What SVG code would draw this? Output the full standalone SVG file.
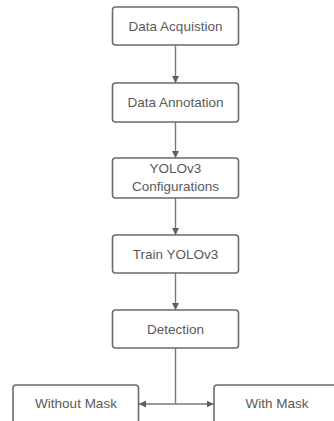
<svg xmlns="http://www.w3.org/2000/svg" width="334" height="421" viewBox="0 0 334 421">
  <style>
    .box { fill: #ffffff; stroke: #6b6b6b; stroke-width: 1.6; }
    .label { font-family: "Liberation Sans", Arial, sans-serif; font-size: 13.5px; fill: #5a5a5a; text-anchor: middle; dominant-baseline: central; }
    .wire { fill: none; stroke: #7a7a7a; stroke-width: 1.4; }
  </style>
  <defs>
    <marker id="arrow" viewBox="0 0 10 10" refX="10" refY="5" markerWidth="7" markerHeight="7" markerUnits="userSpaceOnUse" orient="auto">
      <path d="M0,0 L10,5 L0,10 z" fill="#5f5f5f"/>
    </marker>
  </defs>
  <rect width="334" height="421" fill="#ffffff"/>

  <g id="connectors">
    <line class="wire" x1="175.5" y1="45" x2="175.5" y2="83" marker-end="url(#arrow)"/>
    <line class="wire" x1="175.5" y1="122" x2="175.5" y2="158" marker-end="url(#arrow)"/>
    <line class="wire" x1="175.5" y1="198" x2="175.5" y2="235" marker-end="url(#arrow)"/>
    <line class="wire" x1="175.5" y1="273" x2="175.5" y2="310" marker-end="url(#arrow)"/>
    <line class="wire" x1="175.5" y1="348" x2="175.5" y2="404"/>
    <line class="wire" x1="175.5" y1="404" x2="139" y2="404" marker-end="url(#arrow)"/>
    <line class="wire" x1="175.5" y1="404" x2="213.5" y2="404" marker-end="url(#arrow)"/>
  </g>

  <g id="data-acquisition">
    <rect class="box" x="112.5" y="7" width="126" height="38" rx="3"/>
    <text class="label" x="175.5" y="26">Data Acquistion</text>
  </g>
  <g id="data-annotation">
    <rect class="box" x="112.5" y="83" width="126" height="39" rx="3"/>
    <text class="label" x="175.5" y="102.5">Data Annotation</text>
  </g>
  <g id="yolov3-config">
    <rect class="box" x="112.5" y="158" width="126" height="40" rx="3"/>
    <text class="label" x="175.5" y="168">YOLOv3</text>
    <text class="label" x="175.5" y="186">Configurations</text>
  </g>
  <g id="train-yolov3">
    <rect class="box" x="112.5" y="235" width="126" height="38" rx="3"/>
    <text class="label" x="175.5" y="254">Train YOLOv3</text>
  </g>
  <g id="detection">
    <rect class="box" x="112.5" y="310" width="126" height="38" rx="3"/>
    <text class="label" x="175.5" y="329">Detection</text>
  </g>
  <g id="without-mask">
    <rect class="box" x="13" y="385" width="125.5" height="45" rx="3"/>
    <text class="label" x="76" y="403">Without Mask</text>
  </g>
  <g id="with-mask">
    <rect class="box" x="214" y="385" width="130" height="45" rx="3"/>
    <text class="label" x="277" y="403">With Mask</text>
  </g>
</svg>
